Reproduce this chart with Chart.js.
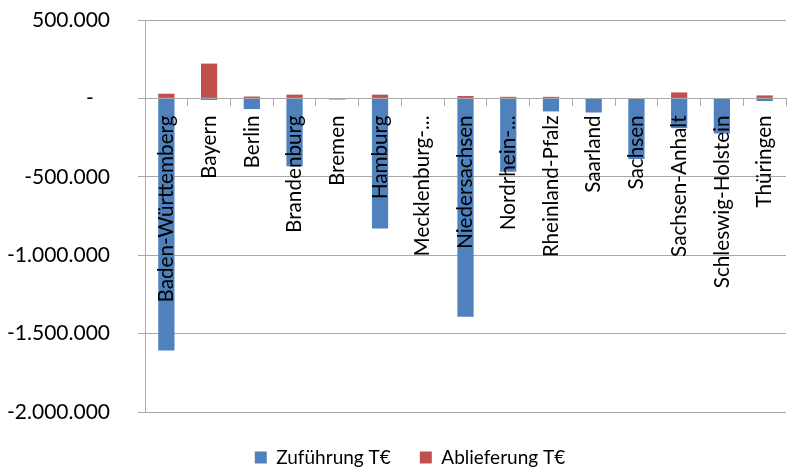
<!DOCTYPE html>
<html>
<head>
<meta charset="utf-8">
<script src="https://cdn.jsdelivr.net/npm/chart.js@4/dist/chart.umd.min.js"></script>
<style>
  html, body { margin: 0; padding: 0; background: #fff; }
  #wrap { width: 787px; height: 468px; }
</style>
</head>
<body>
<div id="wrap"><canvas id="c" width="787" height="468"></canvas></div>
<script>
// Bundesländer
const categories = [
  'Baden-Württemberg', 'Bayern', 'Berlin', 'Brandenburg', 'Bremen', 'Hamburg',
  'Mecklenburg-...', 'Niedersachsen', 'Nordrhein-...', 'Rheinland-Pfalz',
  'Saarland', 'Sachsen', 'Sachsen-Anhalt', 'Schleswig-Holstein', 'Thüringen'
];

// Zuführung in T€ (negative values)
const zufuehrung = [
  -1607000, -10000, -68000, -433000, -7000, -829000,
  0, -1392000, -467000, -83000,
  -90000, -386000, -190000, -224000, -17000
];

// Ablieferung in T€
const ablieferung = [
  30000, 222000, 12000, 24000, 0, 24000,
  0, 15000, 10000, 10000,
  0, 0, 38000, 0, 19000
];

// Value axis range and step
const yMin = -2000000;
const yMax = 500000;
const yStep = 500000;

const FONT = 'Lato, "Open Sans", "Liberation Sans", sans-serif';
const gridColor = '#a9a9a9';

// German thousands format, zero shown as a dash
function fmt(v) {
  if (v === 0) return '-   ';
  const s = Math.abs(v).toString().replace(/\B(?=(\d{3})+(?!\d))/g, '.');
  return (v < 0 ? '-' : '') + s;
}

// Moves the legend row a little to the right of the canvas centre
const legendShift = {
  id: 'legendShift',
  afterLayout(chart) {
    const l = chart.legend;
    if (l) { l.left += 17; l.right += 17; }
  }
};

new Chart(document.getElementById('c'), {
  type: 'bar',
  data: {
    labels: categories,
    datasets: [
      {
        label: 'Zuführung T€',
        data: zufuehrung,
        backgroundColor: '#4F81BD',
        borderWidth: 0,
        categoryPercentage: 1,
        barPercentage: 0.38
      },
      {
        label: 'Ablieferung T€',
        data: ablieferung,
        backgroundColor: '#C0504D',
        borderWidth: 0,
        categoryPercentage: 1,
        barPercentage: 0.38
      }
    ]
  },
  plugins: [legendShift],
  options: {
    responsive: false,
    animation: false,
    layout: { padding: { top: 20, right: 1, left: 0, bottom: -9 } },
    scales: {
      x: {
        position: { y: 0 },
        stacked: true,
        grid: { drawOnChartArea: false, drawTicks: true, tickLength: 7, color: gridColor, offset: true },
        border: { color: gridColor },
        ticks: {
          z: 1,
          minRotation: 90, maxRotation: 90, autoSkip: false, padding: 10,
          color: '#000', font: { family: FONT, size: 20.7 }
        },
        afterFit: s => { s.paddingLeft = 0; s.paddingRight = 0; }
      },
      y: {
        stacked: true,
        min: yMin, max: yMax,
        grid: { color: gridColor, tickLength: 7 },
        border: { color: gridColor },
        ticks: {
          stepSize: yStep, padding: 28, color: '#000',
          font: { family: FONT, size: 21 },
          callback: v => fmt(v)
        },
        afterFit: s => { s.width = 145; s.paddingTop = 0; s.paddingBottom = 0; }
      }
    },
    plugins: {
      tooltip: { enabled: false },
      legend: {
        position: 'bottom',
        title: { display: true, text: ' ', padding: 3, font: { size: 1, lineHeight: 1 } },
        labels: {
          boxWidth: 12, boxHeight: 12, padding: 29,
          color: '#000', font: { family: FONT, size: 19 }
        }
      }
    }
  }
});
</script>
</body>
</html>
